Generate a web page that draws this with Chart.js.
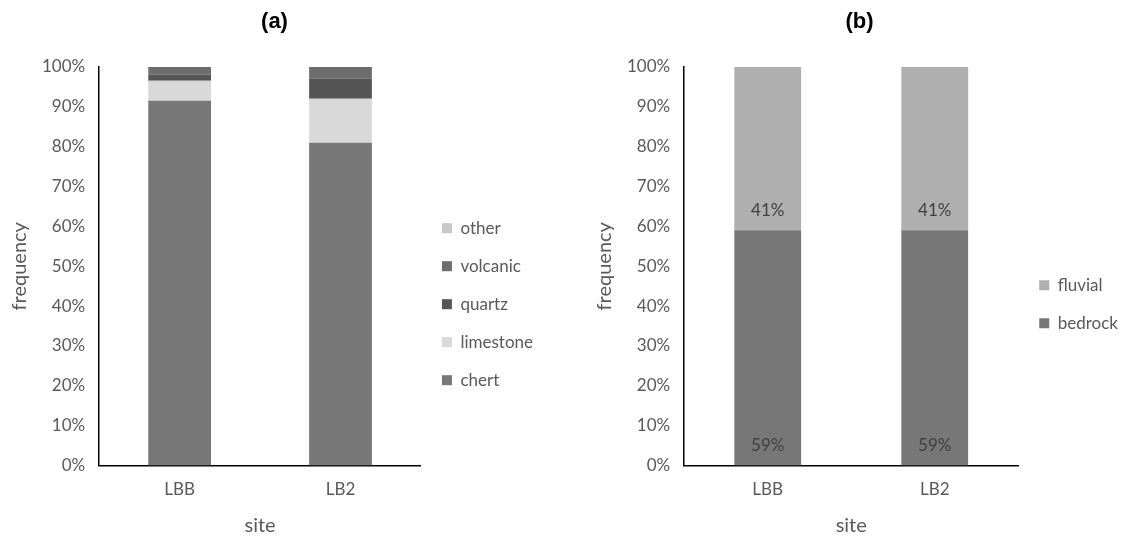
<!DOCTYPE html>
<html>
<head>
<meta charset="utf-8">
<script src="https://cdn.jsdelivr.net/npm/chart.js@4/dist/chart.umd.min.js"></script>
<style>
  body { margin: 0; background: #fff; }
  .panel { position: absolute; top: 0; height: 538px; }
  #panelA { left: 0; width: 568px; }
  #panelB { left: 568px; width: 567px; }
</style>
</head>
<body>
<div class="panel" id="panelA"><canvas id="chartA"></canvas></div>
<div class="panel" id="panelB"><canvas id="chartB"></canvas></div>
<script>
const sites = ['LBB', 'LB2']

// panel (a): lithology, percent of each site
const chert = [91.5, 81]
const limestone = [5, 11]
const quartz = [1.5, 5]
const volcanic = [2, 3]
const other = [0, 0]

// panel (b): source, percent of each site
const bedrock = [59, 59]
const fluvial = [41, 41]

const textGray = '#595959'
const font = 'Lato, "Noto Sans", sans-serif'

Chart.defaults.font.family = font
Chart.defaults.font.size = 17
Chart.defaults.color = textGray
Chart.defaults.animation = false
Chart.defaults.responsive = true
Chart.defaults.maintainAspectRatio = false

// percent labels sitting just above the base of each segment
const baseLabels = {
  id: 'baseLabels',
  afterDatasetsDraw (chart) {
    const ctx = chart.ctx
    ctx.save()
    ctx.font = '17px ' + font
    ctx.fillStyle = '#404040'
    ctx.textAlign = 'center'
    ctx.textBaseline = 'middle'
    chart.data.datasets.forEach((ds, i) => {
      chart.getDatasetMeta(i).data.forEach((bar, j) => {
        ctx.fillText(ds.data[j] + '%', bar.x, bar.base - 20)
      })
    })
    ctx.restore()
  }
}

const makeOptions = (title, barWidth, padLeft, padRight) => ({
  layout: { padding: { left: padLeft, right: padRight, top: 4, bottom: 0 } },
  datasets: { bar: { barPercentage: barWidth, categoryPercentage: 1 } },
  plugins: {
    title: {
      display: true,
      text: title,
      color: '#000',
      font: { family: '"Liberation Sans", Arial, sans-serif', size: 22, weight: 'bold' },
      padding: { top: 5, bottom: 31.5 }
    },
    legend: {
      position: 'right',
      reverse: true,
      title: { display: true, text: ' ', padding: { top: 0, bottom: 46 } },
      labels: { boxWidth: 10, boxHeight: 10, padding: 21, color: textGray }
    },
    tooltip: { enabled: false }
  },
  scales: {
    x: {
      stacked: true,
      grid: { display: false, drawTicks: false },
      border: { display: true, color: '#000', width: 1.5 },
      ticks: { padding: 14 },
      title: { display: true, text: 'site', font: { size: 20 }, padding: { top: 0, bottom: 0 } }
    },
    y: {
      stacked: true,
      min: 0,
      max: 100,
      grid: { display: false, drawTicks: false },
      border: { display: true, color: '#000', width: 1.5 },
      ticks: { stepSize: 10, padding: 14, callback: v => v + '%' },
      title: { display: true, text: 'frequency', font: { size: 20 }, padding: { top: 2, bottom: -4 } }
    }
  }
})

new Chart(document.getElementById('chartA'), {
  type: 'bar',
  data: {
    labels: sites,
    datasets: [
      { label: 'chert', data: chert, backgroundColor: '#777777' },
      { label: 'limestone', data: limestone, backgroundColor: '#d9d9d9' },
      { label: 'quartz', data: quartz, backgroundColor: '#555555' },
      { label: 'volcanic', data: volcanic, backgroundColor: '#6d6d6d' },
      { label: 'other', data: other, backgroundColor: '#c8c8c8' }
    ]
  },
  options: makeOptions('(a)', 0.39, 6, 25)
})

new Chart(document.getElementById('chartB'), {
  type: 'bar',
  data: {
    labels: sites,
    datasets: [
      { label: 'bedrock', data: bedrock, backgroundColor: '#777777' },
      { label: 'fluvial', data: fluvial, backgroundColor: '#afafaf' }
    ]
  },
  options: makeOptions('(b)', 0.4, 23, 7),
  plugins: [baseLabels]
})
</script>
</body>
</html>
